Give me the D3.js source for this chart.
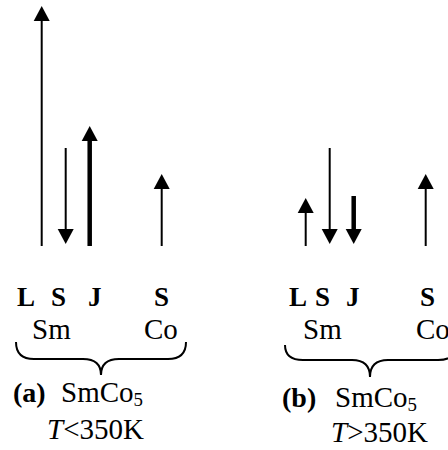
<!DOCTYPE html>
<html><head><meta charset="utf-8">
<script src="https://cdn.jsdelivr.net/npm/d3@7"></script>
<style>body{margin:0;background:#fff}svg{display:block}</style>
</head><body>
<script>
// ---- data ----
const components = ["L", "S", "J", "S"];
const atoms = ["Sm", "Co"];
const momentsA = [5, -2, 2.5, 1.5];   // T < 350K
const momentsB = [1, -2, -1, 1.5];    // T > 350K
const thickFlags = [false, false, true, false];
const panelLabels = ["(a)", "(b)"];
const compoundBase = "SmCo";
const compoundSub = "5";
const tempLabels = ["<350K", ">350K"];

// ---- layout ----
const W = 448, H = 450;
const svg = d3.select("body").append("svg").attr("width", W).attr("height", H);
const y = d3.scaleLinear().domain([0, 5]).range([246, 6]);
const slot = d3.scaleLinear().domain([0, 5]).range([0, 120]);
const slots = [0, 1, 2, 5];
const panels = [
  {x0: 41.7, m: momentsA, lab: panelLabels[0], t: tempLabels[0],
   compX: [17, 51, 88, 154], atomX: [32, 144], brace: [16, 186, 101, 342, 359, 375],
   labX: 13, cmpX: 61, rowY: 402, tX: 47, tY: 439},
  {x0: 305.7, m: momentsB, lab: panelLabels[1], t: tempLabels[1],
   compX: [289, 315, 346, 420], atomX: [303, 416], brace: [285, 456, 370, 345, 360, 377],
   labX: 282, cmpX: 335, rowY: 407, tX: 331, tY: 442}
];
const headL = 15, headW = 8;
const font = "'Liberation Serif','Times New Roman',serif";
const fsB = 27, fs = 29, fsL = 28;

panels.forEach(p => {
  const g = svg.append("g");
  p.m.forEach((v, i) => {
    const x = p.x0 + slot(slots[i]);
    const lw = thickFlags[i] ? 4.5 : 2;
    const base = y(0), end = y(Math.abs(v));
    if (v > 0) {
      g.append("line").attr("x1", x).attr("x2", x).attr("y1", base).attr("y2", end + headL - 1)
        .attr("stroke", "#000").attr("stroke-width", lw);
      g.append("path").attr("d", `M${x},${end}L${x - headW},${end + headL}L${x + headW},${end + headL}Z`).attr("fill", "#000");
    } else {
      const tip = base - 2;
      g.append("line").attr("x1", x).attr("x2", x).attr("y1", end - 2).attr("y2", tip - headL + 1)
        .attr("stroke", "#000").attr("stroke-width", lw);
      g.append("path").attr("d", `M${x},${tip}L${x - headW},${tip - headL}L${x + headW},${tip - headL}Z`).attr("fill", "#000");
    }
  });
  components.forEach((c, i) => {
    g.append("text").attr("x", p.compX[i]).attr("y", 306).text(c)
      .attr("font-family", font).attr("font-weight", "bold").attr("font-size", fsB);
  });
  atoms.forEach((a, i) => {
    g.append("text").attr("x", p.atomX[i]).attr("y", 339).text(a)
      .attr("font-family", font).attr("font-size", fs);
  });
  const [xl, xr, cx, yt, yh, ytip] = p.brace;
  const r = 12;
  const d = `M${xl},${yt}Q${xl},${yh} ${xl + r + 6},${yh}L${cx - r - 6},${yh}Q${cx},${yh} ${cx},${ytip}` +
            `Q${cx},${yh} ${cx + r + 6},${yh}L${xr - r - 6},${yh}Q${xr},${yh} ${xr},${yt}`;
  g.append("path").attr("d", d).attr("fill", "none").attr("stroke", "#000").attr("stroke-width", 2);
  g.append("text").attr("x", p.labX).attr("y", p.rowY).text(p.lab)
    .attr("font-family", font).attr("font-weight", "bold").attr("font-size", fsL);
  const t = g.append("text").attr("x", p.cmpX).attr("y", p.rowY).attr("font-family", font).attr("font-size", fs);
  t.append("tspan").text(compoundBase);
  t.append("tspan").attr("font-size", fs * 0.65).attr("dy", 4).text(compoundSub);
  const t2 = g.append("text").attr("x", p.tX).attr("y", p.tY).attr("font-family", font).attr("font-size", fs);
  t2.append("tspan").attr("font-style", "italic").text("T");
  t2.append("tspan").text(p.t);
});
</script>
</body></html>
